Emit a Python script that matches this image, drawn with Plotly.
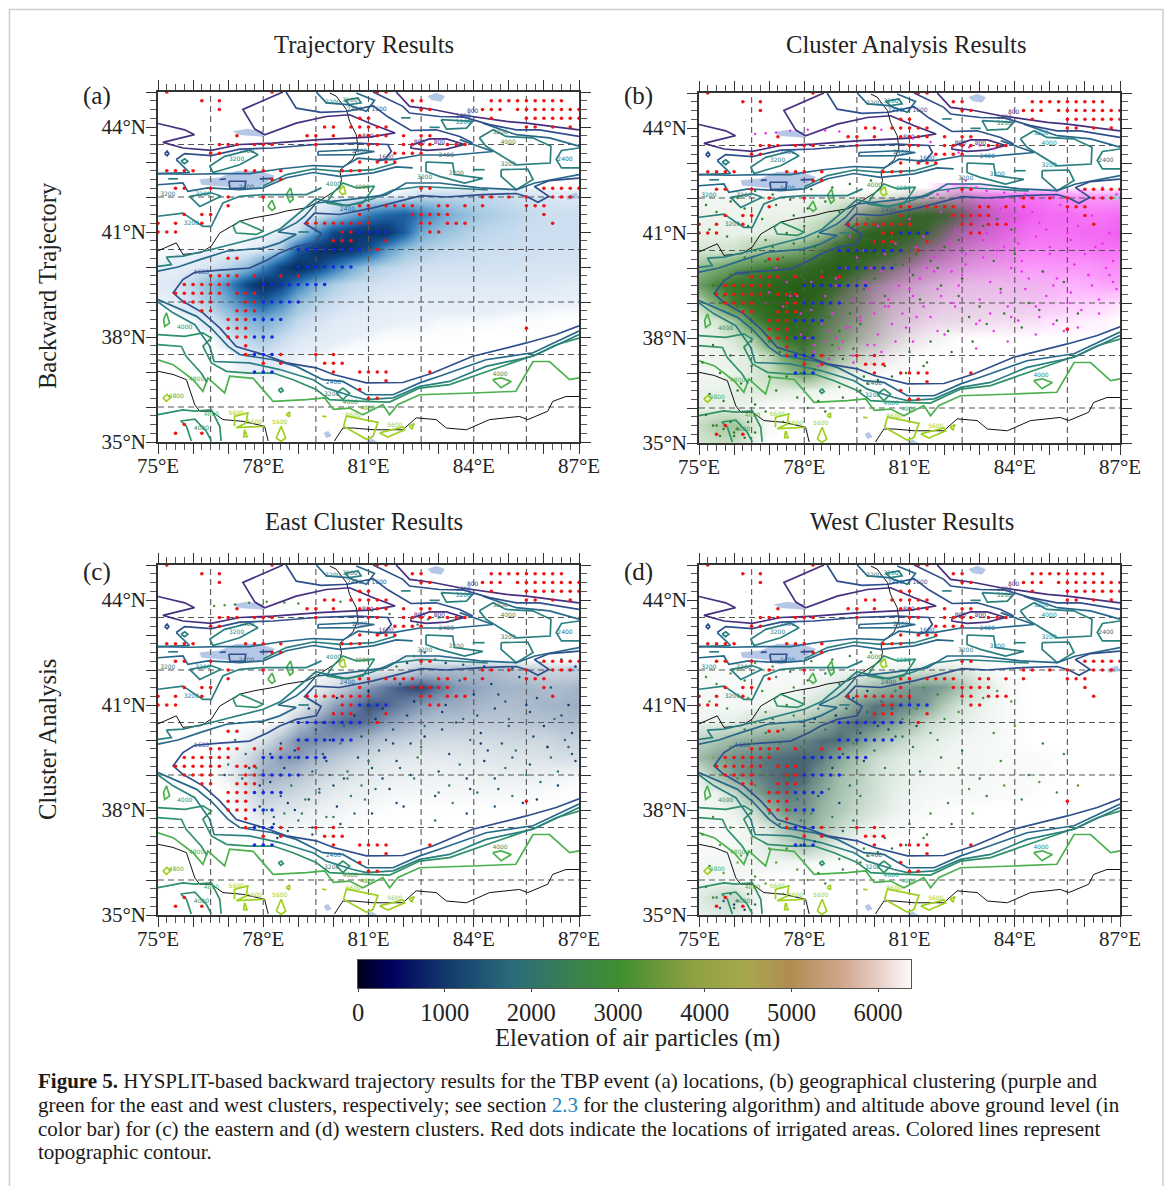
import plotly.graph_objects as go

SERIF = "Liberation Serif"
lon_grid = [75 + 0.5 * i for i in range(25)]
lat_grid = [42.3, 42.05, 41.5, 41, 40.5, 40, 39.5, 39, 38.5, 38, 37.5, 37, 36.5, 36, 35.5, 35]

total_density = [
 [0]*25,
 [0,0,0,0,0,0,0,0,0,0,0,0,0,.1,.3,1,1.2,1.2,1.2,1.2,1,.8,.6,.5,.5],
 [0,0,0,0,0,0,0,0,.1,.5,1.5,3.5,5.5,6.5,7,5.5,4,3,2.2,1.8,1.5,1.2,1,1,1],
 [.05,.05,.05,.05,.1,.1,.1,.2,1,4.5,8,9,9.5,9.5,7,3.5,2.5,2,1.5,1.3,1.2,1,1,1,1],
 [.1,.1,.1,.1,.15,.2,.4,2,7,9.5,10,9.5,7.5,4.5,2.5,1.8,1.4,1.2,1.1,1,1,1,.9,.9,.9],
 [.2,.3,.4,.8,1.5,2.5,5,8.5,10,8.5,6,3.5,2,1.4,1.1,.9,.8,.8,.8,.8,.8,.7,.7,.7,.7],
 [.4,.6,1.5,3,5,8,10,8.5,5.5,3,1.8,1.2,.9,.7,.6,.5,.5,.5,.5,.5,.5,.5,.5,.4,.4],
 [.1,.3,1,2,3.5,5.5,7,5,2.5,1.5,1,.7,.5,.4,.3,.3,.3,.3,.3,.3,.3,.25,.2,.2,.2],
 [0,0,.1,.6,1.8,3,3.5,2.5,1.3,.8,.5,.35,.3,.25,.2,.2,.15,.15,.15,.15,.1,.1,.1,.05,.05],
 [0,0,0,.05,.6,1.5,2,1.2,.6,.4,.3,.2,.15,.1,.1,.1,.05,.05,0,0,0,0,0,0,0],
 [0,0,0,0,.05,.4,.8,.4,.2,.15,.1,.05,.05,0,0,0,0,0,0,0,0,0,0,0,0],
 [0,0,0,0,.1,.2,.25,.15,.05,0,0,0,0,0,0,0,0,0,0,0,0,0,0,0,0],
 [.05,.05,.05,0,0,0,0,0,0,0,0,0,0,0,0,0,0,0,0,0,0,0,0,0,0],
 [0]*25,
 [.05,.08,.08,.05,0,0,0,0,0,0,0,0,0,0,0,0,0,0,0,0,0,0,0,0,0],
 [.05,.05,.05,0,0,0,0,0,0,0,0,0,0,0,0,0,0,0,0,0,0,0,0,0,0],
]
east_density = [
 [0,0,0,0,0,0,0,0,0,0,0,0,0,0,.1,.2,.1,0,0,0,0,0,0,0,0],
 [0,0,0,0,0,0,0,0,0,0,0,0,.05,.1,.2,.4,.45,.5,.5,.5,.45,.35,.3,.3,.3],
 [0,0,0,0,0,0,0,0,0,.1,.25,.5,.7,.85,.95,1,.85,.7,.65,.6,.55,.55,.5,.5,.55],
 [0,0,0,0,0,0,0,0,.1,.35,.65,.8,.95,.9,.8,.7,.62,.6,.55,.5,.5,.5,.55,.55,.6],
 [0,0,0,0,0,0,0,.1,.45,.7,.85,.9,.85,.7,.6,.5,.45,.45,.42,.42,.42,.45,.45,.5,.5],
 [0,0,0,0,0,.1,.2,.5,.75,.75,.7,.6,.5,.4,.35,.3,.28,.28,.28,.28,.3,.3,.3,.35,.35],
 [0,0,0,0,.1,.25,.5,.7,.7,.55,.45,.35,.28,.2,.18,.16,.16,.16,.18,.18,.2,.2,.22,.25,.25],
 [0,0,0,0,.12,.3,.6,.55,.45,.35,.28,.2,.15,.12,.1,.1,.08,.1,.1,.12,.12,.12,.1,.08,.05],
 [0,0,0,0,0,.2,.4,.35,.3,.22,.15,.12,.1,.07,.05,.05,.05,.05,.05,.05,.05,.04,.03,.02,0],
 [0,0,0,0,0,.08,.25,.2,.15,.1,.08,.05,.03,.02,0,0,0,0,0,0,0,0,0,0,0],
 [0,0,0,0,0,0,.05,.08,.05,.03,.04,.02,0,0,0,0,0,0,0,0,0,0,0,0,0],
 [0]*25,[0]*25,[0]*25,[0]*25,[0]*25,
]
west_density = [
 [0,0,0,0,0,0,0,0,0,0,0,0,0,0,0,0,0,0,0,0,0,0,0,0,0],
 [.03,.03,.03,.03,.03,.03,.03,.03,.04,.05,.06,.08,.1,.13,.16,.15,.07,.03,0,0,0,0,0,0,0],
 [.04,.04,.04,.04,.05,.05,.06,.1,.2,.35,.55,.7,.8,.85,.75,.45,.2,.08,.03,0,0,0,0,0,0],
 [.05,.05,.05,.05,.07,.08,.15,.28,.5,.8,.95,.95,.9,.75,.4,.2,.1,.05,.02,0,0,0,0,0,0],
 [.1,.1,.12,.25,.33,.4,.5,.7,.9,.98,.95,.8,.55,.3,.2,.12,.08,.05,.02,0,0,0,0,0,0],
 [.35,.45,.6,.7,.8,.85,.9,.97,.98,.85,.6,.4,.25,.15,.1,.07,.05,.04,.02,0,0,0,0,0,0],
 [.55,.75,.85,.9,.95,.98,1,.95,.75,.5,.3,.2,.12,.1,.07,.05,.05,.04,.03,.03,.02,0,0,0,0],
 [.15,.5,.8,.9,.95,1,1,.8,.55,.4,.25,.15,.1,.08,.05,.05,.05,.04,.04,.03,.02,0,0,0,0],
 [.05,.1,.3,.7,.9,.95,.9,.7,.5,.35,.25,.12,.08,.05,.05,.05,.04,.03,.03,.02,0,0,0,0,0],
 [.04,.05,.1,.25,.6,.85,.85,.6,.45,.3,.2,.1,.05,.03,.02,0,0,0,0,0,0,0,0,0,0],
 [.03,.04,.05,.08,.2,.55,.7,.5,.3,.15,.08,.04,.02,0,0,0,0,0,0,0,0,0,0,0,0],
 [.03,.03,.05,.08,.15,.3,.5,.3,.1,.05,.02,0,0,0,0,0,0,0,0,0,0,0,0,0,0],
 [.05,.05,.06,.08,.08,.06,.05,.04,.02,.01,0,0,0,0,0,0,0,0,0,0,0,0,0,0,0],
 [.05,.05,.05,.03,0,0,0,0,0,0,0,0,0,0,0,0,0,0,0,0,0,0,0,0,0],
 [.15,.25,.3,.1,.02,0,0,0,0,0,0,0,0,0,0,0,0,0,0,0,0,0,0,0,0],
 [.1,.15,.15,.05,0,0,0,0,0,0,0,0,0,0,0,0,0,0,0,0,0,0,0,0,0],
]

east_lon = [81.2,81.8,82.3,82.9,83.3,83.8,84.1,84.6,85.1,85.4,85.9,86.4,86.9,86.2,85.6,84.9,84.3,83.6,83.0,82.4,81.9,81.4,80.9,80.6,80.2,79.8,79.4,79.0,78.7,78.4,82.3,82.6,82.9,83.2,82.1,81.8,83.7,84.3,85.1,85.9,86.5,86.9,76.6,76.9,77.2,77.6,78.1,78.6,79.0,80.2,81.1,81.6,82.4,82.7,83.4,83.0,84.8,85.2,85.7,86.1,86.6,83.9,84.4,82.6,81.7,81.0,80.4,80.0,79.6,79.2,78.9,83.1,83.7,84.2,85.0,86.3,86.8,85.5,84.7,82.2,81.5,80.8,80.3,79.9,83.4,83.9,84.6,85.8,86.7,77.2,77.5,77.8,77.4,77.0,76.9,78.1,78.3,78.6,
 79.3,79.7,80.1,80.6,81.0,81.4,81.9,82.3,82.8,83.2,83.6,84.0,84.5,84.9,85.3,85.8,86.2,86.7,79.5,79.9,80.3,80.8,81.2,81.7,82.1,82.6,83.1,83.5,84.1,84.6,85.0,85.6,86.0,86.5,78.9,79.2,79.7,80.2,80.7,81.3,81.8,82.5,83.3,84.2,85.1,86.1,86.8,78.6,78.9,79.4,79.8,80.4,81.1,81.6,82.2,83.0,83.8,84.7,85.5,86.4,78.2,78.5,78.8,79.3,79.6,80.1,80.5,81.1,82.0,82.9,77.9,78.3,78.7,79.1,79.4,80.0,77.6,77.9,78.2,78.5]
east_lat = [38.6,38.2,38.9,38.4,38.7,37.9,38.5,38.9,38.4,38.2,38.8,39.1,39.4,39.5,39.3,39.2,39.4,39.3,39.1,39.5,39.2,38.9,38.3,37.9,37.6,37.8,37.3,37.7,37.4,37.2,42.4,42.5,42.3,42.2,42.2,42.1,42.15,42.1,42.05,42.2,42.3,42.1,43.83,43.85,43.87,43.92,43.95,43.93,43.9,43.95,43.7,43.6,43.3,43.45,43.4,43.5,39.9,39.7,40.1,39.8,40.0,40.0,39.7,40.1,39.9,39.4,39.1,38.7,38.5,38.3,38.0,40.3,40.6,40.2,40.4,40.6,40.2,41.0,41.3,39.9,40.0,38.7,38.9,39.0,38.2,38.6,38.1,38.3,39.8,40.0,39.6,39.2,38.9,39.3,39.0,38.0,37.6,37.9,
 40.9,40.5,41.2,40.7,41.4,40.9,41.6,41.1,41.5,41.0,41.7,41.3,41.6,41.1,41.8,41.2,41.5,41.0,40.3,40.0,40.4,40.1,40.6,40.3,40.7,40.4,40.8,40.5,40.7,40.9,40.6,40.8,40.4,40.7,39.7,40.0,39.6,39.9,39.5,39.7,39.4,39.8,39.6,39.9,39.5,39.8,39.6,39.2,39.5,39.1,39.4,38.9,39.2,38.6,39.0,38.5,38.9,38.6,39.0,38.7,38.8,38.4,38.7,38.3,38.6,38.1,38.4,37.9,38.1,37.7,38.1,37.8,38.2,37.9,37.5,37.8,39.2,38.7,39.6,39.9]
east_alt = [2100,1200,2300,1400,2600,1100,1800,1300,2500,1000,1700,2400,1200,1900,1500,2200,1000,1800,1300,2700,1600,1100,2400,1900,1300,2600,1500,2100,1400,1200,2200,1500,1900,1100,1300,2500,1600,1100,1400,1800,1200,1000,3000,3200,2800,2600,3100,2500,2900,2700,2300,2400,2100,2800,2600,2200,1400,2000,1200,1500,1700,2100,1300,1000,1200,1700,2200,1300,1800,2400,1000,1300,1700,1100,1500,1900,1200,1000,1300,1100,1500,2500,1300,1900,2900,1200,1500,1100,1600,2400,1800,2700,1500,2200,1300,1900,1100,2600,
 900,1200,800,1100,700,900,1300,800,1200,1000,1500,900,1100,1600,1000,1200,1400,900,1300,1000,1700,1200,900,1400,1100,1800,1000,1300,1500,1100,1900,1200,1000,1400,1100,1600,1300,2000,1100,1500,1200,2100,1300,1000,1700,1200,1500,1000,1400,1800,1200,2300,1300,1000,1600,2200,1100,1400,1800,1200,1000,1500,2100,1300,1700,1100,2500,1400,1200,1800,1200,1600,1000,2200,1400,1900,1300,1000,1200,1100]
west_lon = [75.2,75.5,75.9,76.3,76.8,77.2,77.7,78.1,78.6,79.0,75.3,75.8,76.4,76.9,77.5,78.0,78.4,76.1,76.6,77.1,77.6,78.2,78.8,79.3,79.9,75.4,75.9,76.5,77.0,75.1,75.6,76.2,75.3,75.7,76.1,76.6,75.2,75.5,76.0,76.4,77.2,77.8,78.4,79.0,79.7,80.3,81.0,81.6,82.1,82.7,83.2,83.7,84.2,84.7,85.2,81.3,81.9,82.4,83.0,83.6,84.4,80.6,81.1,81.8,82.5,83.4,84.0,84.8,85.4,85.8,83.1,83.5,83.9,79.6,80.1,80.9,81.5,76.9,77.4,78.1,78.6,79.1,79.8,80.5,81.4,82.2,82.8,75.7,76.0,75.9,75.6,76.3,76.1,75.4,76.6,77.9,78.3,77.5,
 75.4,75.7,75.9,76.2,76.5,76.7,77.0,77.3,77.6,77.9,78.2,78.5,78.8,79.1,79.4,79.7,80.0,80.3,75.6,75.8,76.1,76.4,76.6,76.9,77.2,77.5,77.8,78.1,78.4,78.7,79.0,79.3,79.6,76.3,76.6,76.9,77.1,77.4,77.7,78.0,78.3,78.6,78.9,79.2,79.5,79.8,80.1,80.5,80.8,81.2,79.4,79.8,80.2,80.6,81.0,81.4,81.8,79.6,80.0,80.4,80.8,81.2,81.6,82.0,82.4,77.0,77.3,77.6,77.9,78.2,78.5,78.8,79.1,79.4]
west_lat = [41.8,41.6,41.9,41.7,41.4,41.8,41.5,41.7,41.9,41.6,41.1,40.9,41.2,40.8,41.0,41.2,40.9,42.0,42.2,42.1,41.95,42.25,42.3,42.4,42.5,37.8,37.5,37.2,36.9,37.3,37.0,36.7,36.4,36.2,36.5,36.1,35.8,35.5,35.2,35.6,36.5,36.3,36.2,36.6,36.9,37.2,37.6,37.9,38.2,38.6,38.4,38.7,38.3,38.8,38.5,39.1,39.5,39.2,38.9,39.4,39.0,40.1,39.8,40.0,39.7,40.2,40.4,39.9,39.6,38.7,41.2,41.4,41.1,36.5,36.8,37.0,37.3,35.9,35.6,36.0,35.9,36.3,36.7,36.9,37.2,37.6,37.9,35.4,35.3,35.6,35.2,35.15,35.4,35.5,35.3,37.0,37.1,36.9,
 39.5,39.2,39.8,39.4,39.9,39.1,39.6,39.9,39.3,39.8,39.5,39.9,39.2,39.6,39.9,39.4,39.7,39.2,39.0,39.4,38.9,39.2,38.7,39.0,38.5,38.9,38.3,38.8,38.4,38.6,38.2,38.7,38.4,40.3,40.5,40.2,40.6,40.3,40.7,40.4,40.6,40.3,40.7,40.9,40.5,40.8,40.4,40.9,40.6,40.9,41.2,41.4,41.1,41.4,41.2,41.5,41.3,40.2,40.0,40.3,40.1,40.4,40.2,40.6,40.8,37.9,37.6,38.0,37.7,37.9,37.5,37.8,37.4,37.7]
west_alt = [3100,2800,3300,2600,3000,2500,3200,2700,2200,2400,3400,2900,3500,3100,2700,2300,2000,3600,3300,3000,2600,2900,2400,2200,2600,3100,3400,3700,3200,2900,3300,3600,3000,3400,3800,3100,2700,2300,1900,2600,3600,3300,3000,2500,2900,2400,1900,3100,2600,3400,2300,3200,2500,3300,2800,1700,2600,3300,2100,2900,2400,1500,2300,3000,2000,2700,3300,2100,2800,3200,3100,2500,3400,2400,2800,2000,2500,3500,3100,3300,2600,2400,3000,2000,2700,2300,3100,1400,1200,2600,1600,1100,2100,3000,1800,1000,1300,2600,
 3800,4300,3100,3600,2800,3400,2600,3000,2300,2700,1400,2100,1100,1600,2500,1200,1800,2300,3300,3700,2800,3200,2500,2900,2200,2700,1900,2400,1300,2000,1100,1700,2300,2600,3000,2300,2800,2000,2500,1500,1200,1900,1000,1400,1000,1700,1200,1500,2200,2800,1300,1000,1700,2300,1200,3000,2600,1000,1400,1100,1800,1300,2300,2800,3100,2700,2300,2800,2000,2500,1800,2300,1600,2100]

earth_scale = [[0,"#00001c"],[.06,"#00005f"],[.16,"#123a6c"],[.28,"#2b6c7a"],[.38,"#3a8050"],[.47,"#3f8f30"],[.6,"#8ca040"],[.7,"#a8a84e"],[.78,"#b08c50"],[.88,"#d2a890"],[.95,"#ecd5d0"],[1,"#fdfbfb"]]
bar_levels = list(range(0, 6401, 40))
bar_ticks = [0,1000,2000,3000,4000,5000,6000]

gridlines_lon = [76.5,78,79.5,81,82.5,84,85.5]
gridlines_lat = [36,37.5,39,40.5,42,43.5]
major_lon = list(range(75,88))
major_lat = list(range(35,46))
label_lon = {75:"75°E",78:"78°E",81:"81°E",84:"84°E",87:"87°E"}
label_lat = {35:"35°N",38:"38°N",41:"41°N",44:"44°N"}

red_rows = {
 45:[75.25,78.25,81.25,81.5],
 44.75:[76.25,76.75,82.25,82.5,84.5,84.75,85,85.25,85.5,85.75,86,86.25,86.5],
 44.5:[76.75,82.5,82.75,84.25,84.5,84.75,85.25,85.5,85.75,86,86.25,86.5,86.75,87],
 44.25:[80.75,81,84.5,85.5,85.75,86,86.25,86.5,86.75,87],
 44:[79.75,80,80.5,80.75,81,81.25,81.5,85.5,85.75,86.25,86.75],
 43.75:[77.25,79.25,79.5,80,80.75,81,81.25,81.5,82,82.5,82.75],
 43.5:[76.75,77,77.25,77.75,78,78.25,79.5,81,81.25,82,82.25,82.5,82.75,83.25,83.5,83.75],
 43.25:[76.5,76.75,81.75,82,82.25,82.5],
 43:[80.75,81.25,81.5,81.75],
 42.75:[75.25,75.5,75.75,76,77.5,77.75,78,78.5,80.25,80.5,80.75],
 42.5:[78.25,78.5],
 42.25:[75.5,75.75,76.5,82.5,82.75,86,86.25,86.5,86.75,87],
 42:[77,78,84.25,84.5,85,85.5,86.25,86.5,86.75],
 41.75:[77,80.75,81,81.5,81.75,82,82.25,83,83.25,83.75,84.25,85.5,85.75,86],
 41.5:[75.75,76.25,76.5,80.75,82.25,82.5,82.75,83,83.25,86],
 41.25:[75,75.5,76.25,79.25,79.5,79.75,80,80.25,80.5,80.75,81,82.5,82.75,83.25,83.5,83.75,86.25],
 41:[75,75.25,75.5,80.25,80.5,82.75,83],
 40.75:[80,80.25,80.5,81.5],
 40.5:[81.25],
 40.25:[77,77.25],
 39.75:[76.5,76.75,77,77.25,77.75,78.5,79],
 39.5:[75.75,76,76.25,76.5,76.75,77],
 39.25:[75.5,75.75,76,76.25,76.5,76.75,77.25,77.5,77.75],
 39:[75.75,76,76.25,76.5,77.5,77.75],
 38.75:[76.25,76.5,77.25,77.5,77.75],
 38.5:[77,77.25,77.5],
 38.25:[77,77.25,77.5,85.5],
 38:[77,77.25,77.5],
 37.75:[77.5],
 37.5:[77.5,78.5,79.5,80],
 37.25:[78,78.5,79.75,80,80.25],
 37:[80,80.75,81,81.25,81.5,82.75],
 36.75:[81.5],
 36.5:[80.75],
 36.25:[81,81.25],
 35.5:[75.75],
 35.25:[75.5,76.25],
}
blue_rows = {
 41:[80.75,81,81.25,81.5],
 40.5:[79,79.25,79.5,79.75,80,80.25,80.5,80.75],
 40:[79,79.25,79.5,79.75,80,80.25,80.5],
 39.5:[78,78.25,78.5,78.75,79,79.25,79.5,79.75],
 39:[78,78.25,78.5,78.75,79],
 38.5:[77.75,78,78.25,78.5],
 38:[77.75,78,78.25],
 37.5:[77.75,78,78.25],
 37:[77.75,78,78.25],
}

lake_shapes = [
 [(76.19,42.5),(76.76,42.55),(77.23,42.74),(77.9,42.74),(78.33,42.6),(77.9,42.26),(77.33,42.26),(76.76,42.31),(76.24,42.36),(76.19,42.5)],
 [(77.14,43.87),(77.52,43.94),(78,43.87),(78,43.73),(77.33,43.78),(77.14,43.87)],
 [(82.69,44.88),(82.93,44.97),(83.17,44.88),(83.07,44.73),(82.79,44.78),(82.69,44.88)],
 [(86.64,42.02),(86.92,42.12),(87,41.97),(86.68,41.93),(86.64,42.02)],
 [(79.73,35.26),(79.85,35.31),(79.94,35.17),(79.8,35.12),(79.73,35.26)],
 [(80.94,35),(81.08,35.1),(81.24,35),(80.94,35)],
]
border_north = [(75,40.46),(75.52,40.69),(75.71,40.36),(76.23,40.41),(76.52,40.6),(76.76,40.97),(77.1,41.17),(77.33,41.31),(77.76,41.41),(78.28,41.5),(78.66,41.6),(79.23,41.69),(79.51,41.83),(79.8,42.02),(80.18,42.26),(80.23,42.5),(80.18,42.76),(80.56,43.09),(80.7,43.43),(80.65,43.78),(80.46,44.16),(80.37,44.5),(80.08,44.88),(79.9,44.97)]
border_west = [(75,37.02),(75.43,36.93),(75.81,36.78),(76.05,36.06),(76.19,35.88),(76.52,35.88),(76.85,35.64),(77.42,35.59),(78.04,35.45),(78.14,35.03)]
border_south = [(80.03,35.03),(80.27,35.4),(80.56,35.4),(81.13,35.35),(81.98,35.35),(82.36,35.69),(82.93,35.64),(83.22,35.4),(83.79,35.35),(84.45,35.64),(85.3,35.73),(85.54,35.64),(86.11,35.88),(86.25,36.16),(86.63,36.3),(87,36.3)]

contours_800 = [
 [(78.56,45),(77.42,44.5),(77.76,43.94),(78.04,43.78),(78.94,44.11),(79.8,44.3),(80.46,44.35),(81.12,44.07),(81.76,43.83),(81.03,43.71),(79.6,43.64),(78.28,43.54),(77.33,43.5),(76.52,43.33),(75.71,43.4),(75.14,43.56),(76.04,43.78),(75.76,43.92),(75,44.1)],
 [(81.79,45),(82.17,44.59),(82.84,44.5),(83.6,44.35),(84.93,44.16),(85.5,44.11),(87,43.92)],
 [(82.21,43.47),(82.74,43.66),(83.22,43.66),(83.74,43.5),(83.22,43.37),(82.65,43.33),(82.21,43.4),(82.21,43.47)],
]
contours_1600 = [
 [(87,42.54),(86.16,42.47),(85.73,42.3),(86.02,42.11),(86.14,42.02),(85.83,41.85),(85.54,42),(85.21,42.1),(84.26,42.07),(83.21,42),(82.5,42.04),(81.13,41.69),(80.18,41.5),(79.46,41.54),(79.18,41.24),(79.65,40.96),(79.51,40.69),(78.94,40.59),(78.47,40.4),(78.13,40.21),(77.61,39.97),(76.76,39.91),(76.05,39.85),(75.71,39.64),(75.43,39.26),(75.71,39.02),(76.28,38.69),(76.76,38.26),(77.23,37.73),(78,37.5),(78.66,37.26),(79.51,37.12),(80,36.93),(80.94,36.69),(81.98,36.7),(82.83,36.97),(83.97,37.45),(85.5,37.83),(86.35,38.07),(87,38.32)],
 [(81.13,45),(81.98,44.59),(82.17,44.4),(83.02,44.3),(83.69,44.29),(84.45,44.07),(85.21,43.92),(85.87,43.92),(87,43.73)],
 [(78.65,45),(78.94,44.54),(79.65,44.42),(80.41,44.45),(81.13,44.61),(81.55,44.29),(82.21,43.9),(82.93,43.92),(83.6,43.73),(83.97,43.54)],
 [(75.52,43.07),(75.76,43.24),(76.52,43.18),(77.33,43.37),(78.28,43.4),(79.51,43.5),(80.65,43.54),(81.55,43.5),(81.65,43.3),(81.46,43.07),(81.22,43.02)],
 [(75.19,43.24),(75.26,43.31),(75.31,43.24),(75.26,43.18),(75.19,43.24)],
 [(77.02,42.45),(77.5,42.45),(77.48,42.25),(77.05,42.25),(77.02,42.45)],
 [(76.76,42.5),(76.93,42.52)],
 [(77.9,42.52),(78.28,42.53)],
]
contours_2400 = [
 [(75,42.67),(75.9,42.7),(75.52,43.07)],
 [(75,42.67),(75.9,42.65),(76.76,42.67),(77.61,42.67),(78.47,42.8),(79.42,42.9),(80.27,42.86),(80.7,43.11),(81.22,43.07),(81.7,43.07),(82.46,43.2),(83.43,43.2),(84.55,43.3),(84,43.5),(83.6,43.64)],
 [(75,39.88),(75.57,40.0),(76.19,40.21),(76.95,40.45),(78,40.54),(78.47,40.69),(78.94,40.93),(78.42,41),(78.94,41.26),(79.18,41.45),(79.51,41.83),(80.37,41.92),(81.5,42.06),(82.07,42.4),(83.02,42.4),(84.17,42.26),(85.21,42.21),(85.74,42.4),(87,42.64)],
 [(75,39.07),(75.43,38.88),(76.1,38.59),(76.52,38.25),(77,37.73),(77.33,37.5),(78.28,37.35),(78.94,37.16),(79.7,36.78),(80.27,36.73),(80.94,36.35),(81.7,36.35),(82.46,36.69),(83.02,36.88),(84.35,37.35),(85.69,37.55),(87,38.17)],
 [(79.56,43.3),(80.65,43.35),(81.17,43.3),(80.65,43.21),(79.56,43.2),(79.56,43.3)],
 [(79.51,45),(79.8,44.69),(80.41,44.64),(80.94,44.45),(81.17,44.76),(80.65,44.97)],
 [(84.26,44.11),(85.21,43.78),(86.16,43.69),(87,43.45)],
 [(75,42.35),(75.71,42.4),(75.85,42.16),(76.42,42.26),(77.33,42.21),(78,42.26),(78.66,42.55),(79.42,42.7),(80.18,42.59),(81.13,42.69),(81.79,42.86),(82.26,42.83)],
]
contours_3200 = [
 [(78,42.32),(78.66,42.64),(79.42,42.8),(80.18,42.73),(81.13,42.78),(81.79,42.97)],
 [(82.64,43),(83.4,42.97),(83.45,42.64),(84.26,42.53),(83.74,42.4),(83.02,42.59),(82.64,42.73),(82.64,43)],
 [(83.97,42.78),(84.31,42.78)],
 [(84.78,42.78),(85.54,42.8),(85.69,42.5),(85.21,42.21),(84.78,42.59),(84.78,42.78)],
 [(84.16,43.69),(84.55,43.92),(84.92,43.73),(85.68,43.69),(86.2,43.45),(86.18,42.97),(85.21,42.92),(84.35,43.45),(84.16,43.69)],
 [(87,43.4),(86.5,43.33),(86.35,43.07),(86.5,42.83),(87,42.83)],
 [(80.32,44.76),(80.7,44.83),(80.79,44.69),(80.46,44.64),(80.32,44.76)],
 [(83.07,44.21),(83.97,44.16),(83.79,43.97),(83.22,43.94),(83.07,44.21)],
 [(76.47,42.88),(76.9,43.16),(77.61,43.34),(77.85,43.21),(77.33,42.92),(76.57,42.7),(76.47,42.88)],
 [(75.66,43.02),(75.76,43.09),(75.85,43.02),(75.76,42.95),(75.66,43.02)],
 [(75.9,42.02),(76.52,42.12),(76.8,42.02),(76.19,41.73),(75.9,42.02)],
 [(75,41.45),(75.71,41.54),(76.28,41.16),(76.52,41.16),(76.85,41.83),(77.33,42.02),(78,42.07),(78.57,42.07),(79.23,42.07),(79.66,42.26)],
 [(75,40.02),(75.38,40.07),(75.24,40.28),(75.71,40.31),(76.52,40.5),(77.61,40.78),(78,40.88),(78.5,41.1),(79.1,41.6),(79.5,41.95),(80.4,41.75),(81.13,41.95),(81.7,42.2),(82.5,42.3),(83.5,42.25),(84.4,42.2)],
 [(75,39),(75.43,38.69),(76.05,38.35),(76.28,38.02),(76.47,37.74),(76.6,37.3),(77.6,37.26),(78.47,37.07),(79.42,36.78),(79.8,36.54),(80.56,36.3),(80.94,36.21),(81.7,36.26),(82.46,36.59),(83.31,36.73),(84.35,37.16),(85.69,37.45),(87,38.07)],
 [(79,41),(79.3,41)],
 [(75.29,42.52),(75.57,42.52)],
 [(81.93,44.26),(82.2,44.26)],
 [(82.74,43.99),(83.03,43.99)],
]
contours_4000 = [
 [(75,38.07),(75.76,38.02),(76.28,38.12),(76.52,37.97),(76.28,37.74),(76.52,37.26),(76.95,37.02),(77.61,36.97),(78.28,36.97),(78.85,36.78),(79.51,36.5),(79.89,36.21),(80.65,36.17),(81.6,36.14),(82.46,36.54),(83.31,36.64),(84.54,37.07),(85.78,37.5),(86.35,37.78),(87,37.97)],
 [(79.8,41.83),(79.99,42.12),(80.27,42.4),(80.65,42.26),(81.17,42.31),(80.84,41.83),(80.27,41.75),(79.8,41.83)],
 [(77.14,41.17),(77.33,41.31),(77.66,41.17),(78,41.02),(77.8,40.93),(77.23,40.97),(77.14,41.17)],
 [(75,37.78),(75.67,37.73),(75.8,37.45),(76.23,36.97),(76.4,36.7)],
 [(75,35.78),(75.71,35.92),(76.05,35.88),(76.52,35.92),(76.76,35.45),(76.8,35.03)],
 [(75.95,35.03),(75.81,35.45),(75.65,35.6),(76.05,35.65),(76.38,35.3),(76.52,35.03)],
 [(78.43,36.49),(78.52,36.54),(78.57,36.47),(78.5,36.42),(78.43,36.49)],
 [(80.09,36.4),(80.27,36.54),(80.46,36.4),(80.27,36.21),(80.09,36.4)],
]
contours_4800 = [
 [(75,37.35),(75.43,37.21),(76,36.78),(76.28,36.45),(76.42,36.83),(76.9,36.4),(77.04,36.88),(77.71,36.82),(78.28,36.16),(79.23,36.21),(79.75,36.26),(80,35.93),(80.46,35.97),(80.84,35.78),(81.41,36.07),(81.6,35.78),(81.84,36.07),(82.46,36.35),(83.97,36.4),(85.2,36.45),(85.69,37.3),(86.16,37.3),(86.73,36.78),(87,36.83)],
 [(84.54,36.78),(84.78,36.83),(85.07,36.73),(84.78,36.55),(84.54,36.78)],
 [(75.24,38.69),(75.33,38.4),(75.19,38.3),(75.16,38.5),(75.24,38.69)],
 [(78.66,42.07),(78.78,42.26),(78.85,41.93),(78.76,41.85),(78.66,42.07)],
 [(78.13,41.73),(78.25,41.91),(78.34,41.69),(78.25,41.62),(78.13,41.73)],
]
contours_5600 = [
 [(77.18,35.45),(77.18,35.73),(77.56,35.83),(77.51,35.54),(77.23,35.41),(78.04,35.45)],
 [(77.47,35.35),(77.54,35.15),(77.44,35.15),(77.47,35.35)],
 [(78.37,35.11),(78.51,35.45),(78.64,35.11),(78.51,35.02),(78.37,35.11)],
 [(80.29,35.45),(80.37,35.74),(81.27,35.56),(81.13,35.16),(80.94,35.08),(80.29,35.45)],
 [(81.32,35.26),(81.98,35.43),(82.03,35.35),(81.55,35.14),(81.32,35.26)],
 [(82.16,35.45),(82.3,35.53),(82.24,35.38),(82.16,35.45)],
 [(75.14,36.26),(75.26,36.36),(75.35,36.26),(75.24,36.16),(75.14,36.26)],
 [(78.65,35.78),(78.75,35.86),(78.75,35.72),(78.65,35.78)],
 [(79.68,35.74),(79.8,35.72)],
 [(80.16,42.17),(80.29,42.33),(80.35,42.11),(80.25,42.07),(80.16,42.17)],
]
level_colors = {800:"#46307f",1600:"#2f4f8c",2400:"#27698a",3200:"#2a8080",4000:"#2f9168",4800:"#4bb04d",5600:"#9ed01f"}
level_lines = {800:contours_800,1600:contours_1600,2400:contours_2400,3200:contours_3200,4000:contours_4000,4800:contours_4800,5600:contours_5600}

contour_labels = [
 (800,83.97,44.43),(1600,83.7,44.29),(3200,83.7,44.12),(3200,84.75,43.85),(4000,84.98,43.55),(2400,83.22,43.2),(3200,83.5,42.66),(3200,84.98,42.92),(2400,86.6,43.07),
 (3200,79.98,44.7),(3200,80.47,44.77),(2400,80.6,44.5),(1600,81.3,44.5),(4000,80,42.35),(4000,80.82,42.26),(3200,82.6,42.55),(1600,81.5,43.13),(2400,80.75,43.3),
 (2400,77.52,43.3),(3200,77.24,43.08),(2400,77.52,42.26),(3200,75.28,42.06),(3200,76.28,42.07),(3200,75.95,41.24),(1600,76.24,39.85),(4000,75.76,38.27),(2400,80,36.7),
 (3200,79.95,36.36),(4000,80.48,36.12),(4800,80.98,35.95),(4000,84.75,36.92),(5600,77.23,35.82),(5600,77.75,35.55),(5600,78.47,35.57),(5600,80.57,35.75),(5600,81.75,35.48),
 (4000,76.24,35.4),(4800,76.1,36.8),(4800,75.52,36.3),(4800,76.52,35.78),(800,80.98,43.72),(800,82.45,43.56),(800,83.02,43.56),(2400,80.4,41.65),
]

page_titles = ["Trajectory Results","Cluster Analysis Results","East Cluster Results","West Cluster Results"]
panel_letters = ["(a)","(b)","(c)","(d)"]
row_titles = ["Backward Trajectory","Cluster Analysis"]
bar_title = "Elevation of air particles (m)"
caption_lines = [
 "<b>Figure 5.</b> HYSPLIT-based backward trajectory results for the TBP event (a) locations, (b) geographical clustering (purple and",
 "green for the east and west clusters, respectively; see section <span style='color:#1f86c4'>2.3</span> for the clustering algorithm) and altitude above ground level (in",
 "color bar) for (c) the eastern and (d) western clusters. Red dots indicate the locations of irrigated areas. Colored lines represent",
 "topographic contour.",
]

W, H = 1173, 1186
panels = [(158,579,92,442),(699,1120,93,443),(158,579,565,915),(699,1120,565,915)]
fig = go.Figure()

def flatten(lines):
    xs, ys = [], []
    for ln in lines:
        xs += [p[0] for p in ln] + [None]
        ys += [p[1] for p in ln] + [None]
    return xs, ys

def heat(z, scale, ax):
    fig.add_trace(go.Heatmap(x=lon_grid, y=lat_grid[::-1], z=z[::-1], zmin=0, zmax=max(max(r) for r in z),
                             colorscale=scale, showscale=False, zsmooth="best", hoverinfo="skip", xaxis=ax[0], yaxis=ax[1]))

blues = [[0,"rgba(255,255,255,0)"],[.02,"rgb(232,240,248)"],[.1,"rgb(204,222,240)"],[.2,"rgb(165,202,226)"],[.4,"rgb(100,160,205)"],[.6,"rgb(42,115,178)"],[.8,"rgb(17,74,137)"],[1,"rgb(8,44,90)"]]
magentas = [[0,"rgba(255,0,255,0)"],[.1,"rgba(255,60,255,.25)"],[.3,"rgba(245,40,245,.48)"],[.6,"rgba(235,20,235,.68)"],[1,"rgba(225,0,225,.85)"]]
greens = [[0,"rgba(40,120,30,0)"],[.1,"rgba(60,140,50,.22)"],[.4,"rgba(50,125,40,.6)"],[.8,"rgba(38,105,25,.9)"],[1,"rgba(32,95,15,.97)"]]
east_scale = [[0,"rgba(90,130,150,0)"],[.1,"rgba(90,130,150,.12)"],[.3,"rgba(75,115,145,.28)"],[.6,"rgba(55,90,135,.5)"],[.85,"rgba(40,72,122,.75)"],[1,"rgba(25,50,100,.95)"]]
west_scale = [[0,"rgba(90,150,110,0)"],[.15,"rgba(90,150,110,.2)"],[.4,"rgba(80,135,95,.42)"],[.7,"rgba(65,115,90,.62)"],[.9,"rgba(50,90,90,.74)"],[1,"rgba(40,72,90,.85)"]]

for i, (l, r, t, b) in enumerate(panels):
    sx = "" if i == 0 else str(i + 1)
    xn, yn = "x" + sx, "y" + sx
    ax = (xn, yn)
    ticks = dict(ticks="outside", ticklen=10, tickwidth=1.3, tickcolor="#333", showline=True, linecolor="#333", linewidth=1.5,
                 mirror="ticks", showgrid=False, zeroline=False, tickfont=dict(family=SERIF, size=21, color="#222"))
    fig.layout["xaxis" + sx] = dict(domain=[l / W, r / W], range=[75, 87], anchor=yn, tickmode="array", ticklabelstandoff=-6,
        tickvals=major_lon, ticktext=[label_lon.get(v, "") for v in major_lon],
        minor=dict(dtick=.25, tick0=75, ticks="outside", ticklen=6, tickcolor="#555", tickwidth=1), **ticks)
    fig.layout["yaxis" + sx] = dict(domain=[1 - b / H, 1 - t / H], range=[35, 45], anchor=xn, tickmode="array", ticklabelstandoff=-4,
        tickvals=major_lat, ticktext=[label_lat.get(v, "") for v in major_lat],
        minor=dict(dtick=.25, tick0=35, ticks="outside", ticklen=6, tickcolor="#555", tickwidth=1), **ticks)
    for la in lake_shapes:
        fig.add_trace(go.Scatter(x=[p[0] for p in la], y=[p[1] for p in la], mode="lines", fill="toself", fillcolor="#b4c7e7",
                                 line=dict(color="#b4c7e7", width=.5), hoverinfo="skip", xaxis=xn, yaxis=yn))
    if i == 0:
        heat(total_density, blues, ax)
    elif i == 1:
        heat(east_density, magentas, ax)
        heat(west_density, greens, ax)
    elif i == 2:
        heat(east_density, east_scale, ax)
    else:
        heat(west_density, west_scale, ax)
    for v in gridlines_lon:
        fig.add_trace(go.Scatter(x=[v, v], y=[35, 45], mode="lines", line=dict(color="#555", width=1.1, dash="6px,4px"), hoverinfo="skip", xaxis=xn, yaxis=yn))
    for v in gridlines_lat:
        fig.add_trace(go.Scatter(x=[75, 87], y=[v, v], mode="lines", line=dict(color="#555", width=1.1, dash="6px,4px"), hoverinfo="skip", xaxis=xn, yaxis=yn))
    for seg in (border_north, border_west, border_south):
        fig.add_trace(go.Scatter(x=[p[0] for p in seg], y=[p[1] for p in seg], mode="lines", line=dict(color="#111", width=1), hoverinfo="skip", xaxis=xn, yaxis=yn))
    for lev in [5600, 4800, 4000, 3200, 2400, 1600, 800]:
        xs, ys = flatten(level_lines[lev])
        fig.add_trace(go.Scatter(x=xs, y=ys, mode="lines", line=dict(color=level_colors[lev], width=1.7), hoverinfo="skip", xaxis=xn, yaxis=yn))
    for lev, col in level_colors.items():
        labs = [c for c in contour_labels if c[0] == lev]
        if labs:
            fig.add_trace(go.Scatter(x=[c[1] for c in labs], y=[c[2] for c in labs], mode="text", text=[str(c[0]) for c in labs],
                                     textfont=dict(family="DejaVu Sans", size=6, color=col), hoverinfo="skip", xaxis=xn, yaxis=yn))
    if i == 1:
        fig.add_trace(go.Scatter(x=east_lon, y=east_lat, mode="markers", marker=dict(size=2.4, color="#f02cf0"), hoverinfo="skip", xaxis=xn, yaxis=yn))
        fig.add_trace(go.Scatter(x=west_lon, y=west_lat, mode="markers", marker=dict(size=2.4, color="#2f7a26"), hoverinfo="skip", xaxis=xn, yaxis=yn))
    elif i in (2, 3):
        lo, la, al = (east_lon, east_lat, east_alt) if i == 2 else (west_lon, west_lat, west_alt)
        fig.add_trace(go.Scatter(x=lo, y=la, mode="markers", marker=dict(size=2.4, color=al, cmin=0, cmax=6400, colorscale=earth_scale), hoverinfo="skip", xaxis=xn, yaxis=yn))
    for rows, col in ((red_rows, "#f01414"), (blue_rows, "#1428e6")):
        xs = [v for la, vals in rows.items() for v in vals]
        ys = [la for la, vals in rows.items() for v in vals]
        fig.add_trace(go.Scatter(x=xs, y=ys, mode="markers", marker=dict(size=3.6, color=col), hoverinfo="skip", xaxis=xn, yaxis=yn))

# colour bar drawn on its own axis
fig.add_trace(go.Heatmap(x=bar_levels, y=[0, 1], z=[bar_levels, bar_levels], zmin=0, zmax=6380, colorscale=earth_scale, showscale=False,
                         zsmooth="best", hoverinfo="skip", xaxis="x5", yaxis="y5"))
fig.layout["xaxis5"] = dict(domain=[358 / W, 911 / W], range=[0, 6380], anchor="y5", tickmode="array", tickvals=bar_ticks, ticks="outside", ticklen=3,
                            tickcolor="#444", showline=True, linecolor="#555", linewidth=1.2, mirror=True, showgrid=False, zeroline=False, ticklabelstandoff=-1,
                            tickfont=dict(family=SERIF, size=24.5, color="#222"), tickformat="d")
fig.layout["yaxis5"] = dict(domain=[1 - 988 / H, 1 - 960 / H], range=[0, 1], anchor="x5", showticklabels=False, ticks="", showline=True, linecolor="#555",
                            linewidth=1.2, mirror=True, showgrid=False, zeroline=False)

def note(text, px, py, size, xanchor="center", textangle=0, color="#222"):
    fig.add_annotation(text=text, x=px / W, y=1 - py / H, xref="paper", yref="paper", showarrow=False, xanchor=xanchor, yanchor="middle",
                       textangle=textangle, font=dict(family=SERIF, size=size, color=color), align="left")

for txt, (px, py) in zip(page_titles, [(364, 44), (907, 44), (364, 521), (912, 521)]):
    note(txt, px, py, 24.6)
for txt, (px, py) in zip(panel_letters, [(97, 96), (638, 96), (97, 572), (638, 572)]):
    note(txt, px, py, 25)
note(row_titles[0], 47, 286, 24.5, textangle=-90)
note(row_titles[1], 47, 740, 24.5, textangle=-90)
note(bar_title, 637, 1038, 24.7)
for txt, py in zip(caption_lines, [1081, 1105, 1129, 1152]):
    note(txt, 36, py, 21, xanchor="left", color="#1a1a1a")

fig.add_shape(type="rect", xref="paper", yref="paper", x0=9.5 / W, x1=1163 / W, y0=-0.02, y1=1 - 9.5 / H, line=dict(color="#cfcfcf", width=1.6), layer="below")

fig.update_layout(width=W, height=H, margin=dict(l=0, r=0, t=0, b=0, autoexpand=False), paper_bgcolor="white", plot_bgcolor="white", showlegend=False)
fig.write_html("out.html", post_script="document.body.style.margin='0';", config=dict(displayModeBar=False))
